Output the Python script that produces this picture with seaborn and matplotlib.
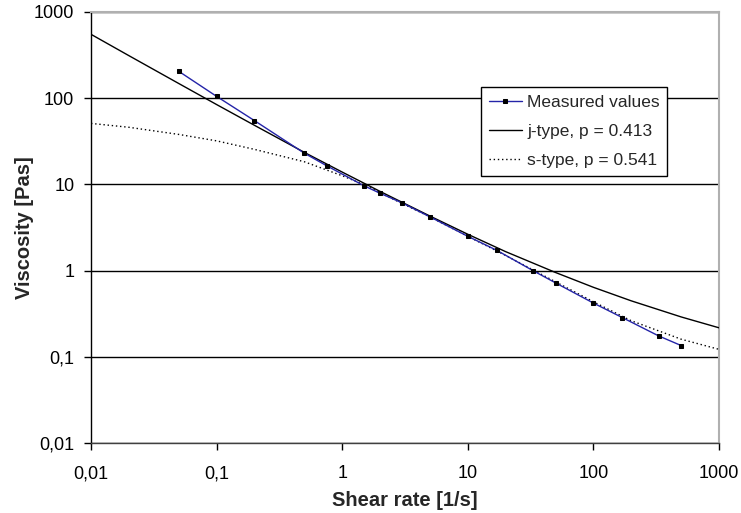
import matplotlib
matplotlib.use("Agg")
import matplotlib.pyplot as plt
import seaborn as sns
import pandas as pd
from matplotlib.ticker import FixedLocator, FixedFormatter, NullLocator

# Measured values
meas_x = [0.05, 0.1, 0.2, 0.5, 0.75, 1.5, 2, 3, 5, 10, 17, 33, 50, 100, 170, 330, 500]
meas_y = [205, 105, 55, 23, 16.5, 9.6, 7.9, 6.1, 4.2, 2.5, 1.72, 1.0, 0.72, 0.42, 0.285, 0.175, 0.135]

# j-type model curve (p = 0.413)
j_x = [0.01, 0.02, 0.05, 0.1, 0.2, 0.5, 1, 2, 5, 10, 20, 50, 100, 200, 500, 1000]
j_y = [551, 312, 148, 84.4, 48.5, 23.5, 13.9, 8.3, 4.29, 2.64, 1.66, 0.95, 0.64, 0.446, 0.29, 0.217]

# s-type model curve (p = 0.541)
s_x = [0.01, 0.02, 0.05, 0.1, 0.2, 0.5, 1, 1.5, 2, 5, 10, 20, 50, 100, 200, 500, 1000]
s_y = [51, 46, 38, 32, 25.5, 18.3, 12.6, 9.9, 8.0, 4.2, 2.5, 1.5, 0.74, 0.435, 0.262, 0.16, 0.122]

x_ticks = [0.01, 0.1, 1, 10, 100, 1000]
x_labels = ["0,01", "0,1", "1", "10", "100", "1000"]
y_ticks = [0.01, 0.1, 1, 10, 100, 1000]
y_labels = ["0,01", "0,1", "1", "10", "100", "1000"]

sns.set_theme(style="white")
plt.rcParams['font.family'] = ['Liberation Sans', 'DejaVu Sans']

fig = plt.figure(figsize=(7.41, 5.13), dpi=100)
ax = fig.add_axes([91/741, 1-443/513, (719-91)/741, (443-12)/513])

df_m = pd.DataFrame({"x": meas_x, "y": meas_y})
df_j = pd.DataFrame({"x": j_x, "y": j_y})
df_s = pd.DataFrame({"x": s_x, "y": s_y})

sns.lineplot(data=df_j, x="x", y="y", ax=ax, color="black", lw=1.0,
             estimator=None, sort=False, label="j-type, p = 0.413", zorder=3)
sns.lineplot(data=df_s, x="x", y="y", ax=ax, color="black", lw=1.0,
             linestyle=(0, (1, 2)), estimator=None, sort=False,
             label="s-type, p = 0.541", zorder=3)
sns.lineplot(data=df_m, x="x", y="y", ax=ax, color="#2424a8", lw=1.0,
             marker="s", markersize=3, markerfacecolor="black",
             markeredgecolor="black", estimator=None, sort=False,
             label="Measured values", zorder=4)

ax.set_xscale("log")
ax.set_yscale("log")
ax.set_xlim(0.01, 1000)
ax.set_ylim(0.01, 1000)

ax.xaxis.set_major_locator(FixedLocator(x_ticks))
ax.xaxis.set_major_formatter(FixedFormatter(x_labels))
ax.xaxis.set_minor_locator(NullLocator())
ax.yaxis.set_major_locator(FixedLocator(y_ticks))
ax.yaxis.set_major_formatter(FixedFormatter(y_labels))
ax.yaxis.set_minor_locator(NullLocator())

ax.tick_params(axis="both", which="major", direction="out", length=5, width=1,
               color="black", labelsize=13, labelcolor="black",
               bottom=True, left=True)
ax.tick_params(axis="x", pad=11)
ax.tick_params(axis="y", pad=7)

ax.yaxis.grid(True, color="black", lw=1.0)
ax.xaxis.grid(False)
ax.set_axisbelow(True)

for side in ["top", "right"]:
    ax.spines[side].set_color("#b0b0b0")
    ax.spines[side].set_linewidth(1.5)
ax.spines["left"].set_color("black")
ax.spines["left"].set_linewidth(1.0)
ax.spines["bottom"].set_color("#404040")
ax.spines["bottom"].set_linewidth(1.0)

ax.set_xlabel("Shear rate [1/s]", fontsize=14.5, fontweight="bold", labelpad=6)
ax.set_ylabel("Viscosity [Pas]", fontsize=14.5, fontweight="bold", labelpad=0)

handles, labels = ax.get_legend_handles_labels()
order = [labels.index("Measured values"), labels.index("j-type, p = 0.413"),
         labels.index("s-type, p = 0.541")]
leg = ax.legend([handles[i] for i in order], [labels[i] for i in order],
                loc="upper left", bbox_to_anchor=(0.621, 0.826), borderaxespad=0,
                frameon=True, fancybox=False, framealpha=1, edgecolor="black",
                fontsize=12.5, handlelength=1.9, handletextpad=0.3,
                labelspacing=0.8, borderpad=0.45)
leg.get_frame().set_linewidth(1.0)

fig.savefig("out.png", dpi=100)
